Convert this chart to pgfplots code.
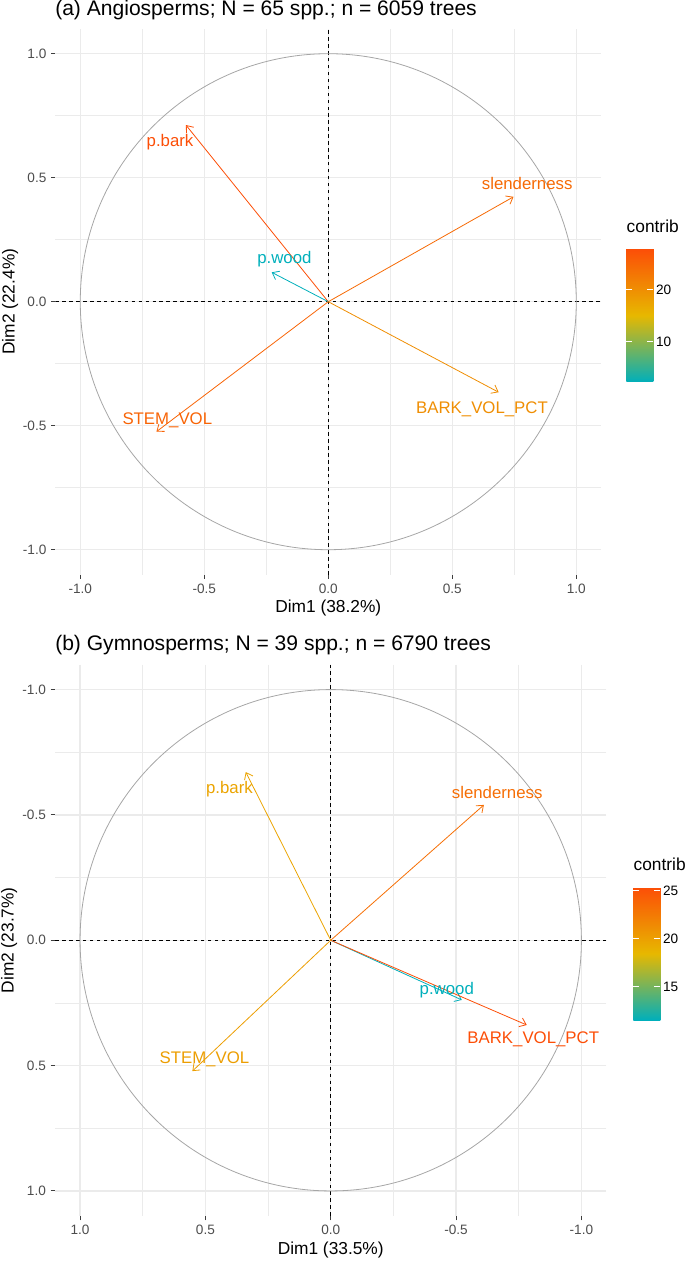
\documentclass[border=0pt]{standalone}
\usepackage{fontspec}
\setmainfont{Liberation Sans}
\usepackage{pgfplots}
\pgfplotsset{compat=1.18}
\usepackage{pgfplotstable}
\usetikzlibrary{arrows.meta}
\definecolor{ggrid}{HTML}{EBEBEB}
\definecolor{ggtick}{HTML}{4D4D4D}
\definecolor{ggcircle}{HTML}{A6A6A6}
% label colours (gradient #00AFBB -> #E7B800 -> #FC4E07 at each contribution)
\definecolor{aBark}{RGB}{252,78,7}
\definecolor{aSlen}{RGB}{246,106,5}
\definecolor{aWood}{RGB}{0,175,187}
\definecolor{aBvp}{RGB}{239,142,3}
\definecolor{aStem}{RGB}{248,100,6}
\definecolor{bBark}{RGB}{235,164,1}
\definecolor{bSlen}{RGB}{246,110,5}
\definecolor{bWood}{RGB}{0,175,187}
\definecolor{bBvp}{RGB}{252,78,7}
\definecolor{bStem}{RGB}{236,158,2}
\pgfplotsset{colormap={ggc}{rgb255=(0,175,187) rgb255=(231,184,0) rgb255=(252,78,7)}}
\newcommand\ftitle{\fontsize{15.8pt}{18pt}\selectfont}
\newcommand\flab{\fontsize{13pt}{15pt}\selectfont}
\newcommand\ftick{\fontsize{10.2pt}{12pt}\selectfont}
\newcommand\fvar{\fontsize{12.6pt}{14pt}\selectfont}

% panel (a): arrows (x y = origin, u v = coordinates, c = contribution)
\pgfplotstableread{
x y u v c
0 0 -0.574 0.7125 27.9
0 0 0.747 0.423 24.5
0 0 -0.228 0.1185 2.2
0 0 0.687 -0.365 20.2
0 0 -0.693 -0.524 25.2
}\arrowsA
% panel (b)
\pgfplotstableread{
x y u v c
0 0 0.339 -0.671 19.75
0 0 -0.611 -0.540 23.25
0 0 -0.523 0.238 11.55
0 0 -0.782 0.338 25.37
0 0 0.552 0.522 20.18
}\arrowsB

\pgfplotsset{
  pcastyle/.style={
    anchor=south west, scale only axis,
    xmin=-1.1, xmax=1.1, ymin=-1.1, ymax=1.1,
    axis line style={draw=none},
    xtick={-1,-0.5,0,0.5,1}, xticklabels={-1.0,-0.5,0.0,0.5,1.0},
    ytick={-1,-0.5,0,0.5,1}, yticklabels={-1.0,-0.5,0.0,0.5,1.0},
    minor xtick={-0.75,-0.25,0.25,0.75}, minor ytick={-0.75,-0.25,0.25,0.75},
    grid=both,
    major grid style={color=ggrid, line width=0.9pt},
    minor grid style={color=ggrid, line width=0.5pt},
    tick align=outside, xtick pos=left, ytick pos=left,
    major tick length=3.3pt, minor tick length=0pt,
    tick style={color=ggtick!80!black, line width=0.8pt},
    ticklabel style={font=\ftick, text=ggtick},
    label style={font=\flab},
    xlabel style={at={(axis description cs:0.5,-0.0613)}, anchor=center},
    ylabel style={at={(axis description cs:-0.0833,0.5)}, anchor=center},
    colormap name=ggc,
    colorbar,
    colorbar/width=20.25pt,
    colorbar style={
      scale only axis,
      at={(parent axis.east)}, anchor=west,
      height=99.75pt,
      axis line style={draw=none},
      tick align=inside, ytick pos=both, yticklabel pos=right,
      major tick length=4.5pt,
      tick style={color=white, line width=0.8pt},
      yticklabel style={font=\ftick, text=black, xshift=-1.5pt},
      /pgf/number format/assume math mode=true,
      title={contrib},
      title style={at={(0,1)}, anchor=base west, inner sep=0pt, yshift=6.3pt, font=\flab},
    },
  },
  vec/.style={quiver={u=\thisrow{u}, v=\thisrow{v},
      every arrow/.append style={draw=mapped color, line width=0.6pt,
      -{Straight Barb[length=4.5pt,width=7pt]}}},
      point meta=\thisrow{c}},
  vl/.style n args={2}{draw=none, mark=none, nodes near coords={#1},
      every node near coord/.append style={anchor=center, font=\fvar, text=#2}},
  zline/.style={black, line width=0.6pt, dash pattern=on 2.6pt off 2.6pt},
}

\begin{document}
\begin{tikzpicture}
\useasboundingbox (0,0) rectangle (513.75pt,946.5pt);
% ---------------- panel (a)
\begin{axis}[pcastyle,
  at={(41.6pt,515.6pt)}, width=409.2pt, height=409.2pt,
  xlabel={Dim1 (38.2\%)}, ylabel={Dim2 (22.4\%)},
  point meta min=2.2, point meta max=27.9,
  colorbar style={xshift=10.5pt, yshift=-10.3pt, ytick={10,20}},
]
\addplot[zline] coordinates {(-1.1,0) (1.1,0)};
\addplot[zline] coordinates {(0,-1.1) (0,1.1)};
\draw[ggcircle, line width=0.6pt] (axis cs:0,0) circle[radius=1];
\addplot[vec] table {\arrowsA};
\addplot[vl={p.bark}{aBark}] coordinates {(-0.638,0.645)};
\addplot[vl={slenderness}{aSlen}] coordinates {(0.802,0.475)};
\addplot[vl={p.wood}{aWood}] coordinates {(-0.177,0.171)};
\addplot[vl={BARK\_VOL\_PCT}{aBvp}] coordinates {(0.620,-0.434)};
\addplot[vl={STEM\_VOL}{aStem}] coordinates {(-0.649,-0.477)};
\end{axis}
% ---------------- panel (b)
\begin{axis}[pcastyle,
  at={(41.25pt,34.5pt)}, width=413.6pt, height=413.6pt,
  x dir=reverse, y dir=reverse,
  xlabel={Dim1 (33.5\%)}, ylabel={Dim2 (23.7\%)},
  point meta min=11.55, point meta max=25.37,
  colorbar style={xshift=11.65pt, yshift=-10pt, ytick={15,20,25}},
]
\addplot[zline] coordinates {(-1.1,0) (1.1,0)};
\addplot[zline] coordinates {(0,-1.1) (0,1.1)};
\draw[ggcircle, line width=0.6pt] (axis cs:0,0) circle[radius=1];
\addplot[vec] table {\arrowsB};
\addplot[vl={p.bark}{bBark}] coordinates {(0.404,-0.604)};
\addplot[vl={slenderness}{bSlen}] coordinates {(-0.664,-0.591)};
\addplot[vl={p.wood}{bWood}] coordinates {(-0.463,0.198)};
\addplot[vl={BARK\_VOL\_PCT}{bBvp}] coordinates {(-0.808,0.395)};
\addplot[vl={STEM\_VOL}{bStem}] coordinates {(0.504,0.474)};
\end{axis}
\node[anchor=base west, font=\ftitle, inner sep=0pt] at (41.25pt,934.5pt) {(a) Angiosperms; N = 65 spp.; n = 6059 trees};
\node[anchor=base west, font=\ftitle, inner sep=0pt] at (41.25pt,458.25pt) {(b) Gymnosperms; N = 39 spp.; n = 6790 trees};
\end{tikzpicture}
\end{document}
